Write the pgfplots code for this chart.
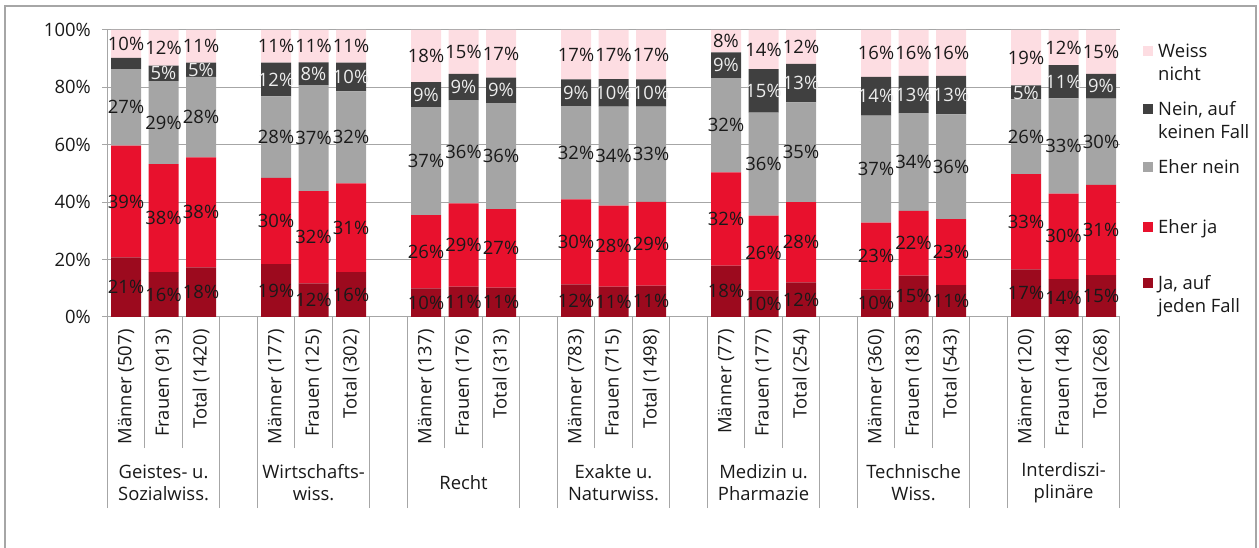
\documentclass[border=0pt]{standalone}
\usepackage{fontspec}
\setmainfont{Open Sans}
\usepackage{pgfplots}
\usepackage{pgfplotstable}
\pgfplotsset{compat=1.18}
\newcommand\F{\fontsize{18.5}{22}\selectfont}
\def\nolabel{n}
\definecolor{cA}{HTML}{9C0A1E}
\definecolor{cB}{HTML}{E8112D}
\definecolor{cC}{HTML}{A5A5A5}
\definecolor{cD}{HTML}{404040}
\definecolor{cE}{HTML}{FDDDE2}
\definecolor{lnc}{HTML}{A6A6A6}
\pgfplotstableread{
x  a    al b    bl c    cl d    dl e    el
0  20.8 21 38.9 39 26.7 27 3.9  n  9.7  10
1  15.6 16 37.7 38 28.9 29 5.4  5  12.4 12
2  17.3 18 38.3 38 28.1 28 4.9  5  11.4 11
4  18.4 19 30.1 30 28.4 28 11.7 12 11.4 11
5  11.7 12 32.2 32 36.9 37 7.9  8  11.3 11
6  15.6 16 31.0 31 32.0 32 10.0 10 11.4 11
8  10.0 10 25.5 26 37.6 37 8.7  9  18.2 18
9  10.6 11 29.0 29 36.0 36 9.1  9  15.3 15
10 10.2 11 27.4 27 36.9 36 8.9  9  16.6 17
12 11.4 12 29.6 30 32.5 32 9.3  9  17.2 17
13 10.6 11 28.2 28 34.5 34 9.6  10 17.1 17
14 10.9 11 29.2 29 33.2 33 9.5  10 17.2 17
16 17.9 18 32.5 32 32.8 32 9.0  9  7.8  8
17 9.2  10 26.1 26 35.9 36 15.2 15 13.6 14
18 12.1 12 27.9 28 34.8 35 13.4 13 11.8 12
20 9.6  10 23.3 23 37.3 37 13.5 14 16.3 16
21 14.4 15 22.6 22 34.0 34 13.0 13 16.0 16
22 11.1 11 23.0 23 36.5 36 13.4 13 16.0 16
24 16.6 17 33.2 33 26.0 26 4.9  5  19.3 19
25 13.2 14 29.8 30 33.2 33 11.6 11 12.2 12
26 14.6 15 31.4 31 30.1 30 8.6  9  15.3 15
}\mydata
\pgfplotsset{
  mygeom/.style={at={(107.3bp,231bp)}, anchor=south west, scale only axis,
    width=1012.5bp, height=287bp, xmin=-0.5, xmax=26.5, ymin=0, ymax=100},
}
\begin{document}
\begin{tikzpicture}[font=\F]
\useasboundingbox (0,0) rectangle (1259bp,548bp);
\draw[color=lnc, line width=1.2bp] (5bp,-5bp) -- (5bp,542bp) -- (1256bp,542bp) -- (1256bp,-5bp);
\begin{axis}[
  mygeom,
  ybar stacked, bar width=0.8,
  axis x line*=bottom, axis y line*=left,
  axis line style={draw=lnc, line width=1bp},
  ymajorgrids, grid style={draw=lnc, line width=1bp},
  ytick={0,20,...,100}, yticklabels={0\%,20\%,40\%,60\%,80\%,100\%},
  tick align=outside, major tick length=0pt, minor tick length=131bp,
  tick style={draw=lnc, line width=1bp},
  xtick={0,1,2,4,5,6,8,9,10,12,13,14,16,17,18,20,21,22,24,25,26},
  minor xtick={0.5,1.5,4.5,5.5,8.5,9.5,12.5,13.5,16.5,17.5,20.5,21.5,24.5,25.5},
  extra x ticks={-0.5,2.5,3.5,6.5,7.5,10.5,11.5,14.5,15.5,18.5,19.5,22.5,23.5,26.5},
  extra x tick labels={},
  extra x tick style={major tick length=191bp},
  extra y ticks={0,20,40,60,80,100},
  extra y tick labels={},
  extra y tick style={major tick length=5bp},
  xticklabels={M\"anner (507),Frauen (913),Total (1420),M\"anner (177),Frauen (125),Total (302),M\"anner (137),Frauen (176),Total (313),M\"anner (783),Frauen (715),Total (1498),M\"anner (77),Frauen (177),Total (254),M\"anner (360),Frauen (183),Total (543),M\"anner (120),Frauen (148),Total (268)},
  xticklabel style={yshift=-9bp, rotate=90, anchor=east, font=\F, text=black!90},
  yticklabel style={font=\F, text=black!90, xshift=-13bp},
]
\addplot[fill=cA, draw=none] table[x=x, y=a] {\mydata};
\addplot[fill=cB, draw=none] table[x=x, y=b] {\mydata};
\addplot[fill=cC, draw=none] table[x=x, y=c] {\mydata};
\addplot[fill=cD, draw=none] table[x=x, y=d] {\mydata};
\addplot[fill=cE, draw=none] table[x=x, y=e] {\mydata};
\end{axis}
\begin{axis}[
  mygeom, hide axis, clip=false,
  point meta=explicit symbolic,
  nodes near coords={\ifx\pgfplotspointmeta\nolabel\else\pgfplotspointmeta\%\fi},
  every node near coord/.style={anchor=center, font=\F, inner sep=0pt, text=black!90},
]
\addplot[only marks, mark=none] table[x=x, y expr=\thisrow{a}/2, meta=al] {\mydata};
\addplot[only marks, mark=none] table[x=x, y expr=\thisrow{a}+\thisrow{b}/2, meta=bl] {\mydata};
\addplot[only marks, mark=none] table[x=x, y expr=\thisrow{a}+\thisrow{b}+\thisrow{c}/2, meta=cl] {\mydata};
\addplot[only marks, mark=none, every node near coord/.append style={text=white!93!black}] table[x=x, y expr=\thisrow{a}+\thisrow{b}+\thisrow{c}+\thisrow{d}/2, meta=dl] {\mydata};
\addplot[only marks, mark=none] table[x=x, y expr=\thisrow{a}+\thisrow{b}+\thisrow{c}+\thisrow{d}+\thisrow{e}/2, meta=el] {\mydata};
\end{axis}
\begin{scope}[every node/.style={align=center, font=\fontsize{18.5}{22}\selectfont, text=black!90}]
\node at (163.55bp,65bp) {Geistes- u.\\Sozialwiss.};
\node at (313.55bp,65bp) {Wirtschafts-\\wiss.};
\node at (463.55bp,65bp) {Recht};
\node at (613.55bp,65bp) {Exakte u.\\Naturwiss.};
\node at (763.55bp,65bp) {Medizin u.\\Pharmazie};
\node at (913.55bp,65bp) {Technische\\Wiss.};
\node at (1063.55bp,65bp) {Interdiszi-\\plinäre};
\end{scope}
\begin{scope}[every node/.style={anchor=base west, align=left, inner sep=0pt, font=\fontsize{18.5}{23.5}\selectfont, text=black!90}]
\fill[cE] (1143bp,492bp) rectangle ++(10bp,10bp);
\node at (1158bp,467.25bp) {Weiss\\nicht};
\fill[cD] (1143bp,434bp) rectangle ++(10bp,10bp);
\node at (1158bp,409.25bp) {Nein, auf\\keinen Fall};
\fill[cC] (1143bp,376bp) rectangle ++(10bp,10bp);
\node at (1158bp,374.75bp) {Eher nein};
\fill[cB] (1143bp,316bp) rectangle ++(10bp,10bp);
\node at (1158bp,314.75bp) {Eher ja};
\fill[cA] (1143bp,260bp) rectangle ++(10bp,10bp);
\node at (1158bp,235.25bp) {Ja, auf\\jeden Fall};
\end{scope}
\end{tikzpicture}
\end{document}
